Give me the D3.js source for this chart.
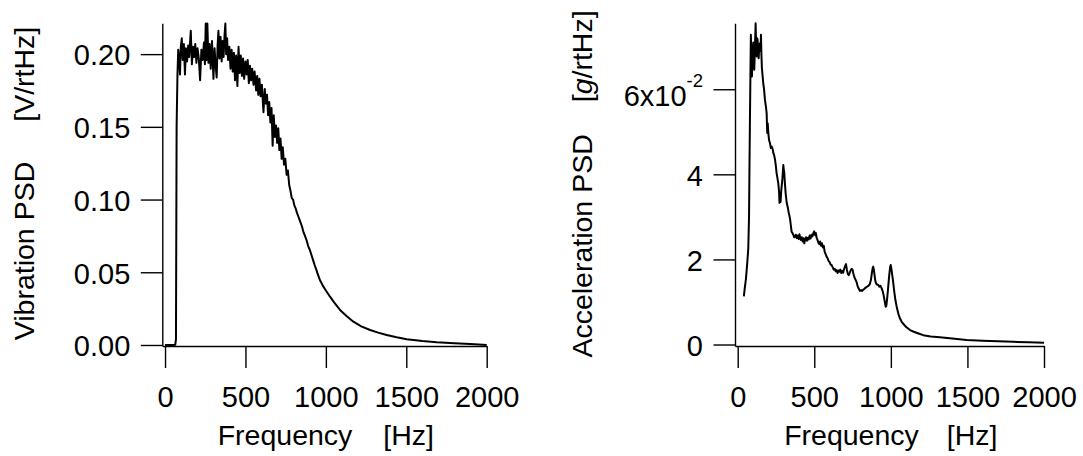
<!DOCTYPE html>
<html><head><meta charset="utf-8">
<script src="https://cdn.jsdelivr.net/npm/d3@7"></script>
<style>
body{margin:0;background:#fff}
text{font-family:"Liberation Sans",Arial,Helvetica,sans-serif;fill:#000}
</style>
</head><body>
<svg id="c" width="1083" height="456"></svg>
<script>
// ---- Left panel: Vibration PSD [V/rtHz] vs Frequency [Hz]
const freqL = [0,20,40,60,64,68,72,77,82,88,93,98,104,110,117,124,130,137,144,150,160,167,174,181,188,195,202,210,218,226,234,242,248,253,258,263,270,277,284,292,301,308,314,321,327,332,338,345,352,358,364,370,375,380,386,392,400,407,414,421,428,435,442,450,457,464,471,478,485,492,500,507,514,521,528,535,542,550,557,566,573,580,587,594,602,612,620,627,634,641,648,655,662,669,676,683,690,697,704,711,718,725,732,740,748,756,764,772,780,788,796,804,812,820,830,840,850,860,870,880,890,900,910,920,930,940,950,963,980,1000,1026,1050,1088,1130,1171,1220,1275,1325,1378,1440,1503,1600,1689,1800,1896,1950,2000];
const psdL = [0,0,0,0,0.0005,0.004,0.15,0.1845,0.203,0.197,0.186,0.205,0.211,0.196,0.207,0.186,0.204,0.195,0.206,0.198,0.216,0.193,0.205,0.198,0.207,0.194,0.204,0.197,0.182,0.203,0.196,0.208,0.193,0.221,0.196,0.221,0.194,0.207,0.19,0.209,0.183,0.204,0.193,0.184,0.206,0.216,0.197,0.212,0.195,0.209,0.198,0.213,0.221,0.2,0.211,0.196,0.205,0.19,0.203,0.188,0.201,0.182,0.199,0.178,0.205,0.187,0.199,0.185,0.197,0.183,0.195,0.186,0.196,0.18,0.192,0.182,0.19,0.179,0.188,0.175,0.185,0.172,0.183,0.171,0.179,0.16,0.176,0.166,0.172,0.158,0.167,0.153,0.163,0.137,0.158,0.143,0.151,0.139,0.149,0.134,0.142,0.128,0.136,0.124,0.128,0.117,0.12,0.11,0.106,0.101,0.1,0.096,0.094,0.091,0.088,0.085,0.082,0.078,0.075,0.072,0.068,0.0655,0.062,0.0585,0.055,0.052,0.0485,0.0447,0.041,0.0375,0.0332,0.0295,0.0241,0.0197,0.016,0.0128,0.0103,0.0085,0.0069,0.0053,0.0039,0.0027,0.0019,0.0012,0.0007,0.0004,0.0];
const yTicksL = [0, 0.05, 0.10, 0.15, 0.20];
const yTickLabelsL = ["0.00", "0.05", "0.10", "0.15", "0.20"];

// ---- Right panel: Acceleration PSD [g/rtHz] vs Frequency [Hz]
const freqR = [40,47,54,62,69,74,77,80,83,86,90,93,97,102,108,113,117,121,124,127,130,134,137,141,145,149,152,155,158,163,167,172,178,184,189,191,193,196,200,205,211,216,222,228,233,238,244,249,254,260,265,270,273,276,280,284,287,292,298,301,304,308,313,320,326,333,341,347,352,358,363,369,374,380,386,392,398,403,407,412,418,424,430,435,440,446,452,458,464,470,476,482,488,494,500,505,510,516,521,526,532,538,544,550,556,562,568,575,581,588,594,600,606,613,620,627,634,640,646,652,658,664,670,676,682,689,695,701,707,713,719,725,731,737,744,750,755,762,770,777,784,791,798,806,813,820,828,835,842,849,856,863,870,876,881,885,889,894,899,903,910,918,925,932,940,948,955,961,966,970,975,980,985,990,995,999,1004,1010,1016,1022,1030,1038,1050,1060,1070,1085,1100,1125,1150,1180,1212,1260,1320,1400,1495,1600,1700,1800,1900,2000];
const accR = [0.0113,0.0135,0.0155,0.019,0.0225,0.03,0.042,0.053,0.063,0.0728,0.066,0.063,0.069,0.071,0.0646,0.070,0.0755,0.069,0.0677,0.072,0.0716,0.068,0.0673,0.070,0.0708,0.069,0.0728,0.068,0.065,0.063,0.0614,0.060,0.0575,0.056,0.0544,0.052,0.0497,0.052,0.0497,0.048,0.0473,0.0462,0.0465,0.046,0.045,0.0445,0.0434,0.042,0.0403,0.039,0.0379,0.036,0.0333,0.034,0.0335,0.036,0.0371,0.039,0.0422,0.041,0.0405,0.038,0.0356,0.0333,0.0324,0.031,0.0297,0.028,0.0265,0.0262,0.0258,0.0252,0.0253,0.0258,0.025,0.0256,0.0248,0.0259,0.0252,0.0246,0.0252,0.0242,0.025,0.0238,0.0246,0.0252,0.0244,0.0251,0.0247,0.0256,0.0249,0.0258,0.0254,0.0262,0.0266,0.0257,0.0262,0.025,0.0246,0.024,0.0236,0.0242,0.0232,0.0238,0.0228,0.0232,0.0218,0.0212,0.0206,0.0202,0.0196,0.0194,0.0188,0.0187,0.0182,0.0176,0.0178,0.0172,0.0175,0.0168,0.0174,0.0171,0.0176,0.0168,0.0173,0.0169,0.0178,0.0184,0.0189,0.0176,0.0166,0.0163,0.0168,0.0174,0.0178,0.0176,0.0167,0.0158,0.0152,0.0146,0.0136,0.0131,0.0126,0.0128,0.0126,0.0129,0.0131,0.0134,0.0135,0.0137,0.0139,0.0142,0.0152,0.0168,0.0179,0.0183,0.0176,0.0162,0.0149,0.0144,0.0141,0.014,0.0136,0.0138,0.0132,0.0124,0.0112,0.0099,0.0089,0.009,0.0105,0.0124,0.0145,0.0165,0.0181,0.0187,0.0177,0.0161,0.0144,0.0125,0.0104,0.0089,0.0071,0.0061,0.0054,0.0047,0.0041,0.0034,0.003,0.0026,0.0022,0.0019,0.0017,0.0014,0.00106,0.00088,0.00074,0.00062,0.00051,0.00042];
const yTicksR = [0, 0.02, 0.04, 0.06];
const yTickLabelsR = ["0", "2", "4", "6x10"];
const yTickSupR = ["", "", "", "-2"];

const xTicks = [0, 500, 1000, 1500, 2000];

const svg = d3.select("#c");
const FONT = '"Liberation Sans",Arial,Helvetica,sans-serif';

function drawPanel(o) {
  const x = d3.scaleLinear().domain(o.xDomain).range(o.xRange);
  const y = d3.scaleLinear().domain(o.yDomain).range([346, 23.3]);
  const g = svg.append("g");

  const xa = g.append("g").attr("transform", "translate(0,346)")
    .call(d3.axisBottom(x).tickValues(xTicks).tickFormat(d => String(d))
      .tickSizeInner(22).tickSizeOuter(0).tickPadding(18));
  const ya = g.append("g").attr("transform", `translate(${o.xRange[0]},0)`)
    .call(d3.axisLeft(y).tickValues(o.yTicks).tickFormat((d, i) => o.yLabels[i])
      .tickSizeInner(21.5).tickSizeOuter(0).tickPadding(10.5));

  [xa, ya].forEach(a => {
    a.attr("font-size", 29).attr("font-family", FONT);
    a.selectAll("path,line").attr("stroke", "#000").attr("stroke-width", 1.4);
    a.selectAll("text").attr("fill", "#000");
  });
  ya.selectAll("text").attr("dy", "0.37em");

  if (o.ySup) {
    ya.selectAll(".tick text").each(function (d, i) {
      if (!o.ySup[i]) return;
      const t = d3.select(this).attr("dy", null).text(null);
      t.append("tspan").attr("dy", 16.7).text(o.yLabels[i]);
      t.append("tspan").attr("dy", -19).attr("font-size", 18.5).text(o.ySup[i]);
    });
  }

  g.append("path")
    .datum(d3.zip(o.f, o.v))
    .attr("fill", "none").attr("stroke", "#000").attr("stroke-width", 2)
    .attr("stroke-linejoin", "round")
    .attr("d", d3.line().x(d => x(d[0])).y(d => y(d[1])));

  // x title
  const xt = g.append("text").attr("x", x(1000)).attr("y", 445)
    .attr("text-anchor", "middle").attr("font-size", 28.5);
  xt.append("tspan").text("Frequency");
  xt.append("tspan").attr("dx", o.xGap).text("[Hz]");

  // y title
  const yt = g.append("text")
    .attr("transform", `translate(${o.yTitleX},${o.yTitleY}) rotate(-90)`)
    .attr("text-anchor", "middle").attr("font-size", 28.5);
  o.yTitle(yt);
}

drawPanel({
  f: freqL, v: psdL,
  xDomain: [-17, 2000], xRange: [162.3, 486.7],
  yDomain: [-0.0007, 0.2212],
  yTicks: yTicksL, yLabels: yTickLabelsL,
  xGap: 31, yTitleX: 33.5, yTitleY: 183.5,
  yTitle: t => {
    t.append("tspan").text("Vibration PSD");
    t.append("tspan").attr("dx", 40).text("[V/rtHz]");
  }
});

drawPanel({
  f: freqR, v: accR,
  xDomain: [-17.6, 2000], xRange: [735, 1044],
  yDomain: [-0.00035, 0.0755],
  yTicks: yTicksR, yLabels: yTickLabelsR, ySup: yTickSupR,
  xGap: 28, yTitleX: 592, yTitleY: 184,
  yTitle: t => {
    t.append("tspan").text("Acceleration PSD");
    t.append("tspan").attr("dx", 32).text("[");
    t.append("tspan").attr("font-style", "italic").text("g");
    t.append("tspan").text("/rtHz]");
  }
});
</script>
</body></html>
